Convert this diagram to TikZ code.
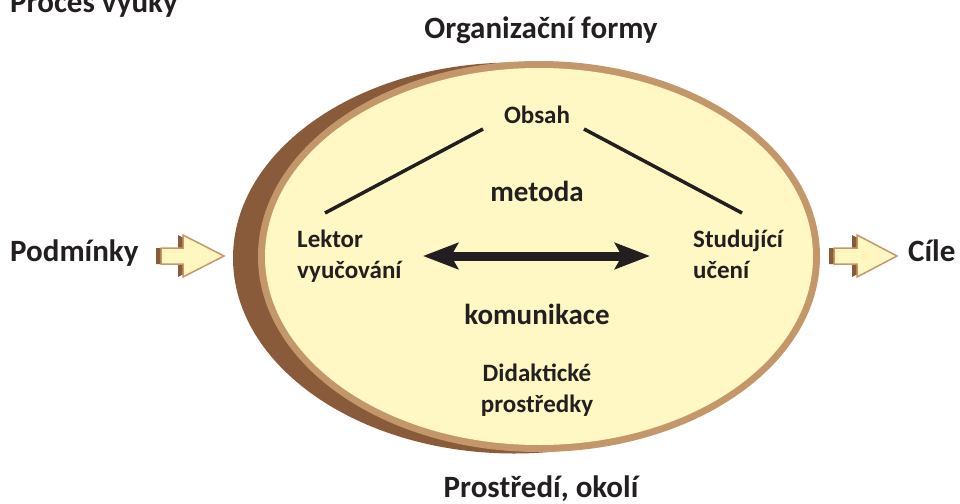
\documentclass[tikz,border=0pt]{standalone}
\usepackage{fontspec}
\setmainfont{Carlito}
\usetikzlibrary{arrows.meta}
\definecolor{txt}{HTML}{231F20}
\definecolor{ovfill}{HTML}{FFF8C4}
\definecolor{ring}{HTML}{C4976A}
\definecolor{shadowbrown}{HTML}{8A5B3A}
\definecolor{arrfill}{HTML}{FFF7C0}
\tikzset{
  big/.style={text=txt,font=\fontsize{31}{37}\selectfont\bfseries,inner sep=0pt},
  mid/.style={text=txt,font=\fontsize{29}{35}\selectfont\bfseries,inner sep=0pt},
  small/.style={text=txt,font=\fontsize{25}{31}\selectfont\bfseries,inner sep=0pt},
  link/.style={draw=txt,line width=3.5pt},
  dbl/.style={draw=txt,line width=9pt,{Stealth[length=35pt,width=26pt,inset=7pt]}-{Stealth[length=35pt,width=26pt,inset=7pt]}},
  blockarrow/.style={fill=arrfill,draw=ring,line width=1.5pt,line join=miter},
  blockshadow/.style={fill=shadowbrown}
}
\begin{document}
\begin{tikzpicture}[x=1pt,y=-1pt]
\useasboundingbox (0,0) rectangle (960,503);
% ellipse
\fill[shadowbrown] (514,258) ellipse [x radius=281, y radius=195.5];
\fill[ring] (539,256.5) ellipse [x radius=281, y radius=195.5];
\fill[ovfill] (539,256.5) ellipse [x radius=274, y radius=188.5];
% block arrows
\fill[blockshadow] (156,248) -- (178,248) -- (178,235) -- (219,256) -- (178,277) -- (178,264) -- (156,264) -- cycle;
\draw[blockarrow] (161,248) -- (183,248) -- (183,235) -- (224,256) -- (183,277) -- (183,264) -- (161,264) -- cycle;
\fill[blockshadow] (829,248) -- (852,248) -- (852,235) -- (892,256) -- (852,277) -- (852,264) -- (829,264) -- cycle;
\draw[blockarrow] (834,248) -- (857,248) -- (857,235) -- (897,256) -- (857,277) -- (857,264) -- (834,264) -- cycle;
% texts
\node[big,anchor=base west] (title) at (10,13) {Proces výuky};
\node[big,anchor=base] (org) at (541,39) {Organizační formy};
\node[big,anchor=base] (prost) at (541,497) {Prostředí, okolí};
\node[big,anchor=base west] (podm) at (10,261) {Podmínky};
\node[big,anchor=base west] (cile) at (908,261) {Cíle};
\node[small,anchor=base] (obsah) at (537,123) {Obsah};
\node[mid,anchor=base] (metoda) at (537,201) {metoda};
\node[mid,anchor=base] (komun) at (537,324) {komunikace};
\node[small,anchor=base,align=center] (didak) at (537,412) {Didaktické\\prostředky};
\node[small,anchor=base west,align=left] (lektor) at (297,278) {Lektor\\vyučování};
\node[small,anchor=base west,align=left] (stud) at (693,278) {Studující\\učení};
% connectors
\coordinate (o1) at (483,129);
\coordinate (l1) at (325,213);
\coordinate (o2) at (584,129);
\coordinate (s1) at (742,213);
\draw[link] (o1) -- (l1);
\draw[link] (o2) -- (s1);
\coordinate (dl) at (423,256);
\coordinate (dr) at (650,256);
\draw[dbl] (dl) -- (dr);
\end{tikzpicture}
\end{document}
